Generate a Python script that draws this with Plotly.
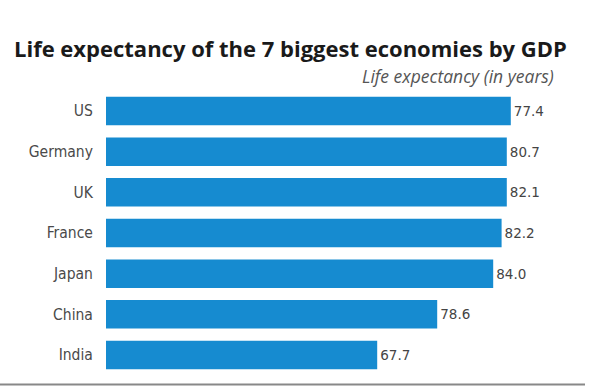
import plotly.graph_objects as go

countries = ["US", "Germany", "UK", "France", "Japan", "China", "India"]
life_expectancy = [77.4, 80.7, 82.1, 82.2, 84.0, 78.6, 67.7]
# bar lengths as drawn in the original graphic (not proportional to the labels)
drawn_lengths = [101.2, 100.2, 100.2, 98.9, 96.8, 82.8, 67.8]

cats = countries[::-1]
vals = life_expectancy[::-1]
lens = drawn_lengths[::-1]

W, H = 600, 387
fig = go.Figure()
fig.add_trace(go.Bar(
    y=cats, x=lens, orientation="h",
    marker=dict(color="#168bd0", line=dict(width=0)),
    width=0.7,
    text=[f"{v:.1f}" for v in vals],
    textposition="outside",
    textfont=dict(family="DejaVu Sans, sans-serif", size=13.5, color="#444444"),
    cliponaxis=False,
    hoverinfo="skip",
))

fig.update_layout(
    width=W, height=H,
    margin=dict(l=0, r=0, t=0, b=0),
    paper_bgcolor="white", plot_bgcolor="white",
    showlegend=False,
    xaxis=dict(domain=[106 / W, 585 / W], range=[0, 119.75], visible=False),
    yaxis=dict(domain=[(H - 375.3) / H, (H - 90.7) / H], range=[-0.5, 6.5],
               categoryorder="array", categoryarray=cats,
               showgrid=False, zeroline=False, showline=False,
               ticks="outside", ticklen=9, tickcolor="rgba(0,0,0,0)",
               tickfont=dict(family="DejaVu Sans Condensed, sans-serif", size=15.5, color="#4a4a4a")),
    annotations=[
        dict(text="<b>Life expectancy of the 7 biggest economies by GDP</b>",
             xref="paper", yref="paper", x=12 / W, y=(H - 48) / H,
             xanchor="left", yanchor="middle", showarrow=False,
             font=dict(family="Open Sans, sans-serif", size=22, color="#1a1a1a")),
        dict(text="<i>Life expectancy (in years)</i>",
             xref="paper", yref="paper", x=556 / W, y=(H - 76) / H,
             xanchor="right", yanchor="middle", showarrow=False,
             font=dict(family="Open Sans, sans-serif", size=17.5, color="#555555")),
    ],
    shapes=[dict(type="line", xref="paper", yref="paper",
                 x0=0, x1=585 / W, y0=(H - 384.5) / H, y1=(H - 384.5) / H,
                 line=dict(color="#888888", width=2))],
)

fig.write_html("out.html", config={"displayModeBar": False},
               post_script="document.body.style.margin='0';document.body.style.padding='0';")
